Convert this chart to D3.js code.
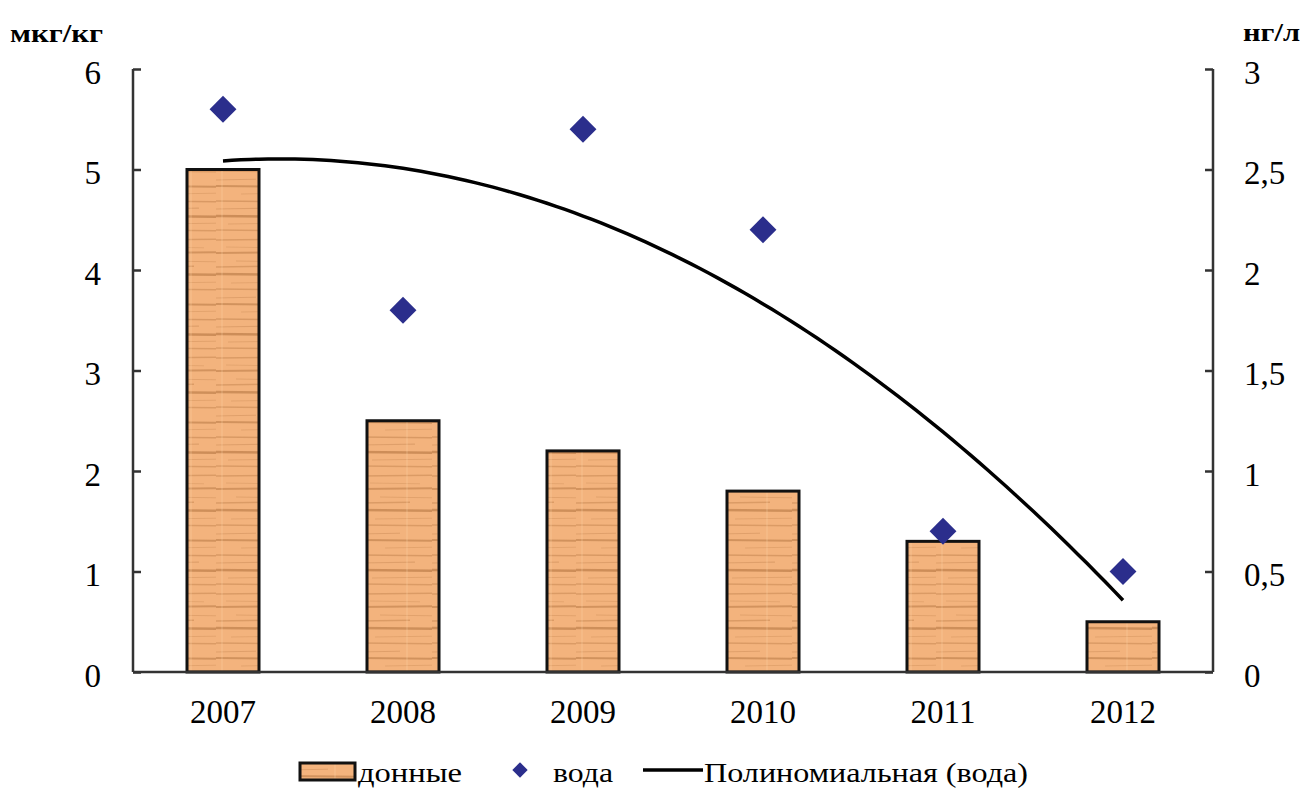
<!DOCTYPE html>
<html><head><meta charset="utf-8">
<script src="https://cdn.jsdelivr.net/npm/d3@7/dist/d3.min.js"></script>
<style>body{margin:0;background:#fff}svg{display:block}</style>
</head><body>
<svg id="c" width="1312" height="803"></svg>
<script>
const years = ["2007","2008","2009","2010","2011","2012"];
const sediment = [5.0, 2.5, 2.2, 1.8, 1.3, 0.5];   // мкг/кг (left axis)
const water = [2.8, 1.8, 2.7, 2.2, 0.7, 0.5];      // нг/л (right axis)
const leftTicks = [0,1,2,3,4,5,6];
const rightTicks = [0,0.5,1,1.5,2,2.5,3];
const rightTickLabels = ["0","0,5","1","1,5","2","2,5","3"];

const svg = d3.select("#c");
const L = 133, R = 1213, T = 69, B = 672;
const font = "'Liberation Serif','Times New Roman',serif";

const x = d3.scaleBand().domain(years).range([L, R]).paddingInner(0.6).paddingOuter(0.3);
const yL = d3.scaleLinear().domain([0, 6]).range([B, T]);
const yR = d3.scaleLinear().domain([0, 3]).range([B, T]);

// wood texture pattern (decorative)
const defs = svg.append("defs");
const pat = defs.append("pattern").attr("id","wood").attr("patternUnits","userSpaceOnUse")
  .attr("width", 72).attr("height", 118);
pat.append("rect").attr("width",72).attr("height",118).attr("fill","#F3B37D");
// [y, x-start, x-end, opacity, width]
const streaks = [[4,0,72,0.30,1.5],[11,10,60,0.18,1],[17,0,72,0.40,2],[25,20,72,0.22,1],[31,0,50,0.30,1.5],
  [38,0,72,0.45,2.5],[47,15,72,0.20,1],[53,0,72,0.30,1.5],[62,0,40,0.25,1],[68,0,72,0.42,2],
  [76,25,72,0.20,1],[83,0,72,0.32,1.5],[91,0,55,0.25,1.2],[98,0,72,0.48,2.5],[106,12,72,0.22,1],[112,0,72,0.30,1.5]];
streaks.forEach(([yy,x1,x2,o,w],i)=>{
  pat.append("line").attr("x1",x1).attr("x2",x2).attr("y1",yy).attr("y2",yy+(i%2?0.8:-0.8))
    .attr("stroke","#A3642F").attr("stroke-opacity",o).attr("stroke-width",w);
});
[6,47].forEach(xx=>pat.append("line").attr("x1",xx).attr("x2",xx).attr("y1",0).attr("y2",118)
  .attr("stroke","#FFD6AE").attr("stroke-opacity",0.25).attr("stroke-width",1.5));

// bars
svg.append("g").selectAll("rect").data(years).join("rect")
  .attr("x", d => x(d)).attr("width", x.bandwidth())
  .attr("y", (d,i) => yL(sediment[i])).attr("height", (d,i) => B - yL(sediment[i]))
  .attr("fill","url(#wood)").attr("stroke","#111").attr("stroke-width",3);

// axes
const axisColor = "#333";
const gL = svg.append("g").attr("transform",`translate(${L},0)`)
  .call(d3.axisRight(yL).tickValues(leftTicks).tickSize(8).tickFormat(""));
const gR = svg.append("g").attr("transform",`translate(${R},0)`)
  .call(d3.axisLeft(yR).tickValues(rightTicks).tickSize(8).tickFormat(""));
[gL,gR].forEach(g=>{
  g.select(".domain").remove();
  g.selectAll(".tick line").attr("stroke",axisColor).attr("stroke-width",2.5);
});
svg.append("line").attr("x1",L).attr("x2",L).attr("y1",T).attr("y2",B).attr("stroke",axisColor).attr("stroke-width",2.5);
svg.append("line").attr("x1",R).attr("x2",R).attr("y1",T).attr("y2",B).attr("stroke",axisColor).attr("stroke-width",2.5);
svg.append("line").attr("x1",L).attr("x2",R).attr("y1",B).attr("y2",B).attr("stroke",axisColor).attr("stroke-width",2.5);

// tick labels
const tfs = 33;
svg.append("g").selectAll("text").data(leftTicks).join("text")
  .attr("x", 101).attr("y", d => yL(d) + 3).attr("dy","0.35em").attr("text-anchor","end")
  .attr("font-family",font).attr("font-size",tfs).text(d=>d);
svg.append("g").selectAll("text").data(rightTicks).join("text")
  .attr("x", 1244).attr("y", d => yR(d) + 3).attr("dy","0.35em").attr("text-anchor","start")
  .attr("font-family",font).attr("font-size",tfs).text((d,i)=>rightTickLabels[i]);
svg.append("g").selectAll("text").data(years).join("text")
  .attr("x", d => x(d)+x.bandwidth()/2).attr("y", 723).attr("text-anchor","middle")
  .attr("font-family",font).attr("font-size",tfs).text(d=>d);

// units
svg.append("text").attr("x",10).attr("y",42).attr("font-family",font).attr("font-size",26)
  .attr("font-weight","bold").attr("textLength",93).attr("lengthAdjust","spacingAndGlyphs").text("мкг/кг");
svg.append("text").attr("x",1243).attr("y",41).attr("font-family",font).attr("font-size",26)
  .attr("font-weight","bold").attr("textLength",57).attr("lengthAdjust","spacingAndGlyphs").text("нг/л");

// polynomial (quadratic) least-squares trend of water data
const n = water.length, xs = years.map((d,i)=>i+1);
const S = k => d3.sum(xs, v => Math.pow(v,k));
const Sy = k => d3.sum(xs, (v,i) => Math.pow(v,k)*water[i]);
const M = [[n,S(1),S(2)],[S(1),S(2),S(3)],[S(2),S(3),S(4)]], V=[Sy(0),Sy(1),Sy(2)];
function solve(A,b){A=A.map((r,i)=>[...r,b[i]]);for(let i=0;i<3;i++){for(let j=i+1;j<3;j++){const f=A[j][i]/A[i][i];for(let k=i;k<4;k++)A[j][k]-=f*A[i][k];}}const s=[0,0,0];for(let i=2;i>=0;i--){let t=A[i][3];for(let k=i+1;k<3;k++)t-=A[i][k]*s[k];s[i]=t/A[i][i];}return s;}
const [c0,c1,c2] = solve(M,V);
const xc = d3.scaleLinear().domain([1,6]).range([x(years[0])+x.bandwidth()/2, x(years[5])+x.bandwidth()/2]);
const trend = d3.range(1, 6.0001, 0.05).map(t => [t, c0 + c1*t + c2*t*t]);
svg.append("path").datum(trend)
  .attr("d", d3.line().x(d=>xc(d[0])).y(d=>yR(d[1])))
  .attr("fill","none").attr("stroke","#000").attr("stroke-width",3.5);

// diamonds
const diamond = d3.symbol().type(d3.symbolDiamond2).size(460);
svg.append("g").selectAll("path").data(years).join("path")
  .attr("transform",(d,i)=>`translate(${x(d)+x.bandwidth()/2},${yR(water[i])})`)
  .attr("d", diamond).attr("fill","#2B2E8C");

// legend
const lfs = 27;
const lg = svg.append("g");
lg.append("rect").attr("x",300).attr("y",763).attr("width",55).attr("height",17)
  .attr("fill","url(#wood)").attr("stroke","#111").attr("stroke-width",3);
lg.append("text").attr("x",358).attr("y",782).attr("font-family",font).attr("font-size",lfs)
  .attr("textLength",104).attr("lengthAdjust","spacingAndGlyphs").text("донные");
lg.append("path").attr("transform","translate(520,770)").attr("d", d3.symbol().type(d3.symbolDiamond2).size(150)).attr("fill","#2B2E8C");
lg.append("text").attr("x",553).attr("y",782).attr("font-family",font).attr("font-size",lfs)
  .attr("textLength",60).attr("lengthAdjust","spacingAndGlyphs").text("вода");
lg.append("line").attr("x1",643).attr("x2",703).attr("y1",770).attr("y2",770).attr("stroke","#000").attr("stroke-width",3.5);
lg.append("text").attr("x",704).attr("y",782).attr("font-family",font).attr("font-size",lfs)
  .attr("textLength",324).attr("lengthAdjust","spacingAndGlyphs").text("Полиномиальная (вода)");
</script>
</body></html>
